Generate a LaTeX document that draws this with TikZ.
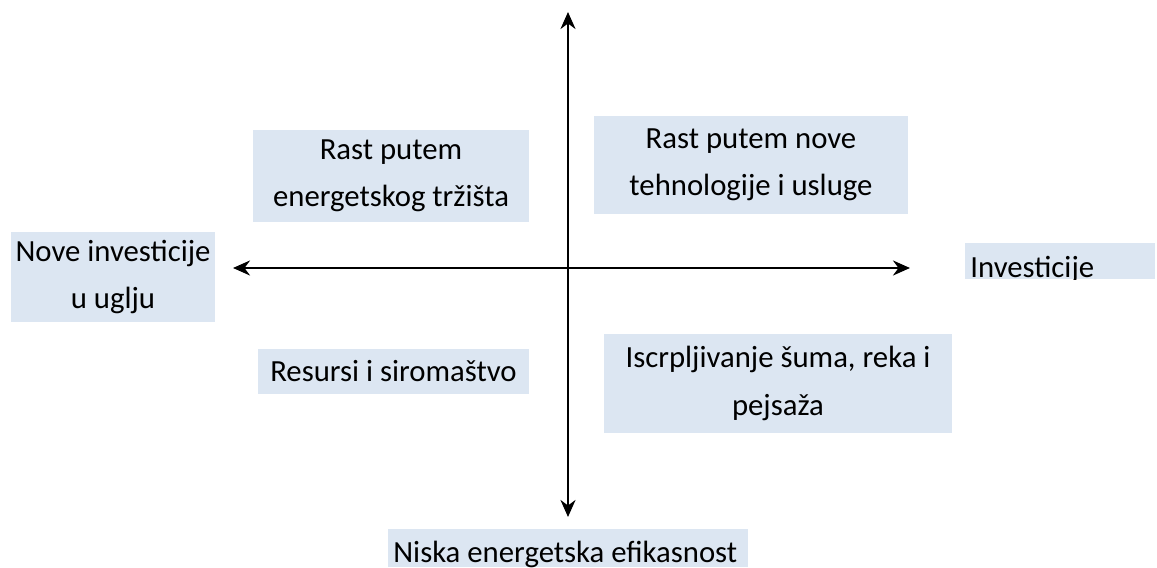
\documentclass[tikz,border=0pt]{standalone}
\usepackage{fontspec}
\setmainfont{Carlito}
\usepackage{xcolor}
\usepackage{tikz}
\usetikzlibrary{arrows.meta}
\definecolor{boxbg}{HTML}{DCE6F2}
\definecolor{ink}{HTML}{000000}
\tikzset{
  axis/.style={draw=ink, line width=1.3pt, {Stealth[length=0.34cm,width=0.3cm]}-{Stealth[length=0.34cm,width=0.3cm]}},
  quad/.style={fill=boxbg, text=ink, align=center, inner sep=0pt, font=\fontsize{17.5pt}{27pt}\selectfont},
  lab/.style={text=ink, inner sep=0pt, font=\fontsize{17.5pt}{27pt}\selectfont},
  labbox/.style={fill=boxbg, inner sep=0pt},
}

\begin{document}
\begin{tikzpicture}[x=0.02cm, y=-0.02cm]
  \useasboundingbox (0,0) rectangle (1157,568);

  \coordinate (W) at (233,268);
  \coordinate (E) at (910,268);
  \coordinate (N) at (568,12);
  \coordinate (S) at (568,517);

  % quadrant boxes
  \node[quad, minimum width=5.52cm, minimum height=1.86cm] (tl) at (391,176)
    {Rast putem\\energetskog tržišta};
  \node[quad, minimum width=6.28cm, minimum height=1.96cm] (tr) at (751,165)
    {Rast putem nove\\tehnologije i usluge};
  \node[quad, minimum width=5.42cm, minimum height=0.9cm] (bl) at (393.5,371.5)
    {Resursi i siromaštvo};
  \node[quad, minimum width=6.96cm, minimum height=1.98cm] (br) at (778,383.5)
    {Iscrpljivanje šuma, reka i\\pejsaža};

  % axis labels
  \node[quad, minimum width=4.08cm, minimum height=1.8cm] (west) at (113,277)
    {Nove investicije\\u uglju};

  \node[labbox, minimum width=3.8cm, minimum height=0.72cm, anchor=north west] (east) at (965,243) {};
  \begin{scope}
    \clip (east.south west) rectangle (east.north east);
    \node[lab, anchor=base west] (easttxt) at (970,277.5) {Investicije};
  \end{scope}

  \node[labbox, minimum width=7.2cm, minimum height=0.76cm, anchor=north west] (south) at (388,529) {};
  \begin{scope}
    \clip (south.south west) rectangle (south.north east);
    \node[lab, anchor=base west] (southtxt) at (393,562) {Niska energetska efikasnost};
  \end{scope}

  \draw[axis] (W) -- (E);
  \draw[axis] (N) -- (S);
\end{tikzpicture}
\end{document}
